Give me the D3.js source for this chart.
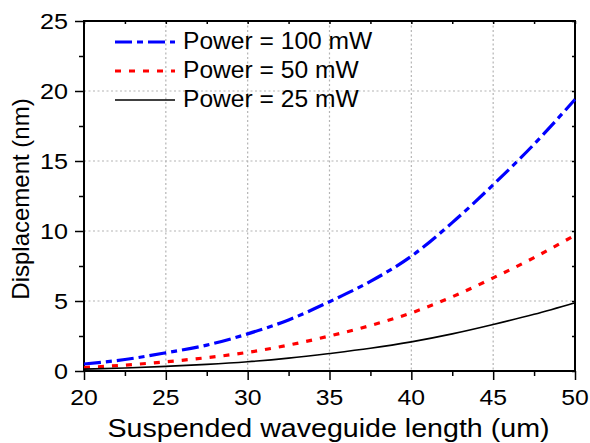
<!DOCTYPE html>
<html>
<head>
<meta charset="utf-8">
<script src="https://cdn.jsdelivr.net/npm/d3@7"></script>
<style>
    body { margin: 0; background: #fff; }
    text { font-family: "Liberation Sans", Arial, sans-serif; fill: #000; }
</style>
</head>
<body>
<div id="chart"></div>
<script>
// waveguide length (um)
var lengths = [20, 22.5, 25, 27.5, 30, 32.5, 35, 37.5, 40, 42.5, 45, 47.5, 50];
// displacement (nm)
var power_100 = [0.5, 0.82, 1.3, 1.85, 2.65, 3.65, 4.95, 6.4, 8.2, 10.6, 13.3, 16.2, 19.4];
var power_50 = [0.25, 0.42, 0.66, 0.95, 1.33, 1.85, 2.5, 3.25, 4.15, 5.3, 6.65, 8.1, 9.7];
var power_25 = [0.13, 0.21, 0.33, 0.47, 0.66, 0.92, 1.25, 1.62, 2.08, 2.65, 3.32, 4.05, 4.88];
var series_names = ["Power = 100 mW", "Power = 50 mW", "Power = 25 mW"];
var x_ticks = [20, 25, 30, 35, 40, 45, 50];
var y_ticks = [0, 5, 10, 15, 20, 25];

var width = 590, height = 443;
var margin = {left: 84, right: 15, top: 21, bottom: 72};

var svg = d3.select("#chart").append("svg")
            .attr("width", width)
            .attr("height", height);

var x = d3.scaleLinear().domain([20, 50]).range([margin.left, width - margin.right]);
var y = d3.scaleLinear().domain([0, 25]).range([height - margin.bottom, margin.top]);

var plot_left = x(20), plot_right = x(50), plot_top = y(25), plot_bottom = y(0);

// the picture is slightly stretched sideways, so text gets a horizontal scale
function wide_text(parent, tx, ty, sx, size, anchor, label)
{
    return parent.append("text")
                 .attr("transform", "translate(" + tx + "," + ty + ")scale(" + sx + ",1)")
                 .attr("text-anchor", anchor)
                 .style("font-size", size + "px")
                 .text(label);
}

// dotted grid
svg.append("g").selectAll("line").data(x_ticks.slice(1, -1)).enter().append("line")
   .attr("x1", d => x(d)).attr("x2", d => x(d))
   .attr("y1", plot_top).attr("y2", plot_bottom)
   .attr("stroke", "#b4b4b4").attr("stroke-width", 1.2).attr("stroke-dasharray", "2,2.5");
svg.append("g").selectAll("line").data(y_ticks.slice(1, -1)).enter().append("line")
   .attr("y1", d => y(d)).attr("y2", d => y(d))
   .attr("x1", plot_left).attr("x2", plot_right)
   .attr("stroke", "#b4b4b4").attr("stroke-width", 1.2).attr("stroke-dasharray", "2,2.5");

// axes
var minor_x = d3.range(22.5, 50, 5);
var minor_y = d3.range(2.5, 25, 5);

svg.append("g").attr("transform", "translate(0," + plot_bottom + ")")
   .call(d3.axisBottom(x).tickValues(x_ticks).tickSize(9).tickFormat(""));
svg.append("g").attr("transform", "translate(0," + plot_bottom + ")")
   .call(d3.axisBottom(x).tickValues(minor_x).tickSize(5).tickFormat(""));
svg.append("g").attr("transform", "translate(" + plot_left + ",0)")
   .call(d3.axisLeft(y).tickValues(y_ticks).tickSize(9).tickFormat(""));
svg.append("g").attr("transform", "translate(" + plot_left + ",0)")
   .call(d3.axisLeft(y).tickValues(minor_y).tickSize(5).tickFormat(""));

// top and right inward ticks
svg.append("g").attr("transform", "translate(0," + plot_top + ")")
   .call(d3.axisTop(x).tickValues(x_ticks.concat(minor_x)).tickSize(-3).tickFormat(""));
svg.append("g").attr("transform", "translate(" + plot_right + ",0)")
   .call(d3.axisRight(y).tickValues(y_ticks.concat(minor_y)).tickSize(-3).tickFormat(""));

svg.selectAll(".domain").remove();
svg.selectAll(".tick line").attr("stroke", "#000").attr("stroke-width", 1.5);

// tick labels
var labels = svg.append("g");
for (var i in x_ticks)
{
    wide_text(labels, x(x_ticks[i]), plot_bottom + 34, 1.1, 22.5, "middle", x_ticks[i]);
}
for (var j in y_ticks)
{
    wide_text(labels, plot_left - 16, y(y_ticks[j]) + 8, 1.12, 22.5, "end", y_ticks[j]);
}

// frame
svg.append("rect")
   .attr("x", plot_left).attr("y", plot_top)
   .attr("width", plot_right - plot_left).attr("height", plot_bottom - plot_top)
   .attr("fill", "none").attr("stroke", "#000").attr("stroke-width", 2);

// curves
var series = [
    {values: power_100, color: "#0000ff", dash: "17,5,6,5", width: 3.2},
    {values: power_50, color: "#ff0000", dash: "6,8", width: 3.2},
    {values: power_25, color: "#000000", dash: null, width: 1.6}
];

var line = d3.line()
             .x(d => x(d[0]))
             .y(d => y(d[1]))
             .curve(d3.curveMonotoneX);

for (var index in series)
{
    var s = series[index];
    var points = lengths.map((l, i) => [l, s.values[i]]);

    svg.append("path")
       .datum(points)
       .attr("d", line)
       .attr("fill", "none")
       .attr("stroke", s.color)
       .attr("stroke-width", s.width)
       .attr("stroke-dasharray", s.dash);
}

// legend
var legend_y = [42, 71, 100];
for (var index_two in series)
{
    var item = series[index_two];
    var ly = legend_y[index_two];

    svg.append("line")
       .attr("x1", 115).attr("x2", 175)
       .attr("y1", ly).attr("y2", ly)
       .attr("stroke", item.color)
       .attr("stroke-width", item.width)
       .attr("stroke-dasharray", item.dash);

    wide_text(svg, 183, ly + 7, 1.07, 23, "start", series_names[index_two]);
}

// axis titles
wide_text(svg, (plot_left + plot_right) / 2 - 1, 437, 1.1, 26, "middle", "Suspended waveguide length (um)");

svg.append("text")
   .attr("transform", "translate(29," + ((plot_top + plot_bottom) / 2 + 3) + ")rotate(-90)")
   .attr("text-anchor", "middle")
   .style("font-size", "24px")
   .text("Displacement (nm)");
</script>
</body>
</html>
